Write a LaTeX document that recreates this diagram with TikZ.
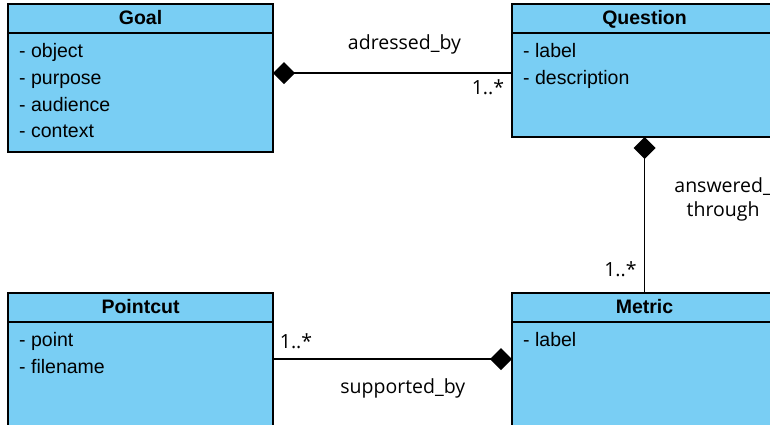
\documentclass[tikz,border=0pt]{standalone}
\usepackage{fontspec}
\setmainfont{Liberation Sans}
\newfontfamily\assocfont{Open Sans}
\usepackage{tikz}
\usetikzlibrary{arrows.meta,positioning,calc}
\definecolor{classblue}{RGB}{121,206,244}
\tikzstyle{classhead}=[draw,fill=classblue,line width=1.8pt,outer sep=0pt,inner sep=0pt,minimum width=265pt,minimum height=29pt,text height=14pt,text depth=3pt,font=\fontsize{19.5}{23}\selectfont\bfseries]
\tikzstyle{classbody}=[draw,fill=classblue,line width=1.8pt,outer sep=0pt,inner sep=0pt,minimum width=265pt]
\tikzstyle{attrs}=[inner sep=0pt,align=left,font=\fontsize{19.5}{26.7}\selectfont]
\tikzstyle{assoc}=[inner sep=0pt,font=\assocfont\fontsize{19.5}{22}\selectfont]
\tikzstyle{link}=[line width=1.8pt]
\tikzstyle{owner}=[{Diamond[length=22pt,width=22pt]}-]

\begin{document}
\begin{tikzpicture}[x=1pt,y=-1pt]
\clip (0,0) rectangle (770,424);
\node [classhead] (goal) at (140.5,18.5) {Goal};
\node [classbody,minimum height=119pt,below=0pt of goal] (goalbody) {};
\node [attrs,below right=10.5pt and 11pt of goalbody.north west] (goalattrs) {- object\\- purpose\\- audience\\- context};
\node [classhead,right=239pt of goal] (question) {Question};
\node [classbody,minimum height=104pt,below=0pt of question] (questionbody) {};
\node [attrs,below right=10.5pt and 11pt of questionbody.north west] (questionattrs) {- label\\- description};
\node [classhead,below=141pt of goalbody] (pointcut) {Pointcut};
\node [classbody,minimum height=140pt,below=0pt of pointcut] (pointcutbody) {};
\node [attrs,below right=10.5pt and 11pt of pointcutbody.north west] (pointcutattrs) {- point\\- filename};
\node [classhead,right=239pt of pointcut] (metric) {Metric};
\node [classbody,minimum height=140pt,below=0pt of metric] (metricbody) {};
\node [attrs,below right=10.5pt and 11pt of metricbody.north west] (metricattrs) {- label};

\draw [link,owner] ([yshift=-40pt]goalbody.north east) --
  node [assoc,pos=0.55,above=17.6pt] (addressedlabel) {adressed\_by}
  node [assoc,pos=1,below left=6pt and 7pt] (addressedmult) {1..*}
  ([yshift=-40pt]questionbody.north west);
\draw [link,owner] (questionbody.south) --
  node [assoc,pos=0.4,right=29pt,align=center,font=\assocfont\fontsize{19.5}{24}\selectfont] (answeredlabel) {answered\_\\through}
  node [assoc,pos=1,above left=15pt and 7pt] (answeredmult) {1..*}
  (metric.north);
\draw [link,owner] ([yshift=-37pt]metricbody.north west) --
  node [assoc,pos=0.457,below=18.5pt] (supportedlabel) {supported\_by}
  node [assoc,pos=1,above right=9pt and 6pt] (supportedmult) {1..*}
  ([yshift=-37pt]pointcutbody.north east);
\end{tikzpicture}
\end{document}
